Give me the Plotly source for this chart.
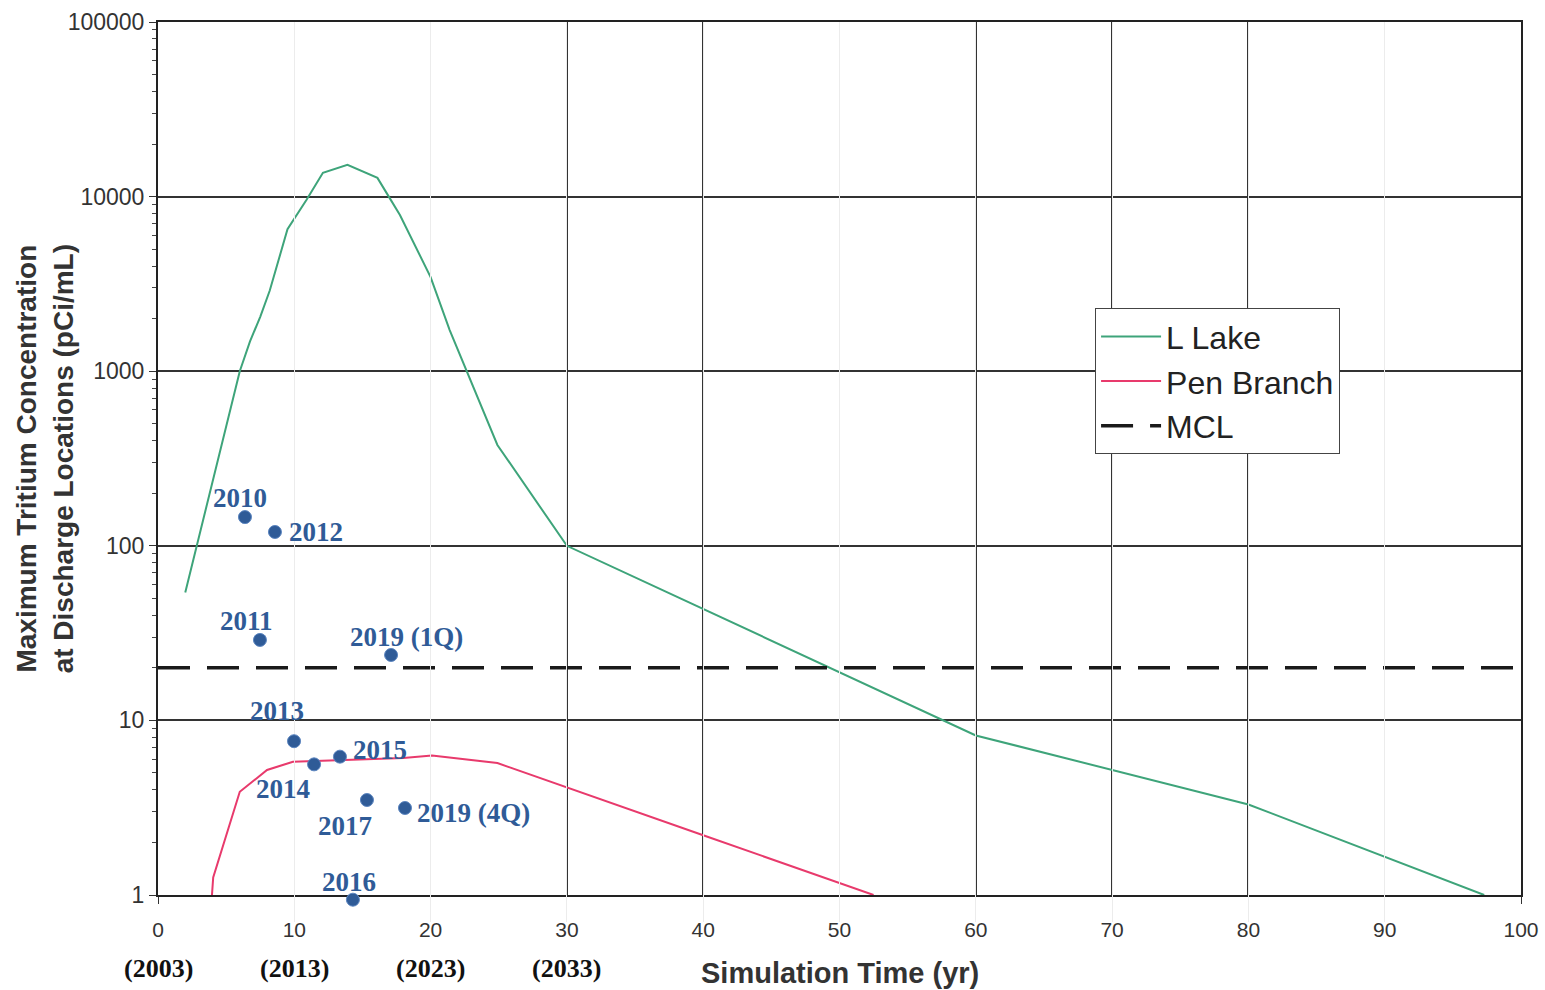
import math
import plotly.graph_objects as go

# L Lake simulated maximum tritium concentration (pCi/mL)
llake_t = [2.0, 4.0, 6.0, 6.75, 7.5, 8.2, 9.5, 10.9, 12.1, 13.9, 16.1, 17.0, 17.75, 20.0, 21.4, 24.9, 30.0, 60.0, 80.0, 97.3]
llake_c = [54, 230, 1000, 1480, 2050, 2900, 6500, 9600, 13700, 15200, 12800, 9800, 7850, 3460, 1720, 378, 100, 8.2, 3.3, 1.0]

# Pen Branch simulated maximum tritium concentration (pCi/mL)
pen_t = [3.96, 4.05, 6.0, 8.0, 9.9, 18.0, 20.1, 24.9, 40.0, 52.5]
pen_c = [1.0, 1.26, 3.9, 5.2, 5.8, 6.1, 6.3, 5.7, 2.2, 1.0]

# MCL
mcl_t = [0, 100]
mcl_c = [20, 20]

# Observed values
obs_labels = ["2010", "2012", "2011", "2019 (1Q)", "2013", "2014", "2015", "2017", "2019 (4Q)", "2016"]
obs_t = [6.38, 8.58, 7.48, 17.1, 9.98, 11.45, 13.35, 15.33, 18.12, 14.3]
obs_c = [146, 120, 28.9, 23.7, 7.6, 5.6, 6.2, 3.5, 3.15, 0.94]
# label offsets from marker (pixels): styling only
label_dx = [-5, 41, -13, 15, -17, -31, 40, -22, 69, -4]
label_dy = [19, 0, 19, 18, 30, -25, 7, -26, -5, 18]

# Axis ticks
x_ticks = [0, 10, 20, 30, 40, 50, 60, 70, 80, 90, 100]
x_dark_grid = [30, 40, 60, 70, 80]
y_ticks = [1, 10, 100, 1000, 10000, 100000]
y_ticktext = ["1", "10", "100", "1000", "10000", "100000"]
y_log_range = [0, 5]
year_ticks = [0, 10, 20, 30]
year_text = ["(2003)", "(2013)", "(2023)", "(2033)"]

BLUE = "#2f5b97"

# main axis occupies [D, 1] of plot height; helper axis for observations spans [0, 1]
D = 0.03
y2_low = y_log_range[1] - (y_log_range[1] - y_log_range[0]) / (1 - D)

fig = go.Figure()
fig.add_trace(go.Scatter(x=llake_t, y=llake_c, mode="lines", name="L Lake",
                         line=dict(color="#3ea47a", width=2)))
fig.add_trace(go.Scatter(x=pen_t, y=pen_c, mode="lines", name="Pen Branch",
                         line=dict(color="#e83a6c", width=2)))
fig.add_trace(go.Scatter(x=mcl_t, y=mcl_c, mode="lines", name="MCL",
                         line=dict(color="#1a1a1a", width=3.5, dash="32px,17px")))
fig.add_trace(go.Scatter(x=obs_t, y=obs_c, mode="markers", showlegend=False,
                         yaxis="y2", cliponaxis=False,
                         marker=dict(color=BLUE, size=13,
                                     line=dict(color="#5b85c0", width=1))))
# invisible trace for dark grid axis
fig.add_trace(go.Scatter(x=mcl_t, y=mcl_c, mode="lines", xaxis="x2", showlegend=False,
                         hoverinfo="skip", line=dict(color="rgba(0,0,0,0)", width=0)))

for t, c, lab, dx, dy in zip(obs_t, obs_c, obs_labels, label_dx, label_dy):
    fig.add_annotation(x=t, y=math.log10(c), xref="x", yref="y2", text="<b>%s</b>" % lab,
                       showarrow=False, xanchor="center", yanchor="middle",
                       xshift=dx, yshift=dy,
                       font=dict(family="Liberation Serif", size=27, color=BLUE))

for xv, tx in zip(year_ticks, year_text):
    fig.add_annotation(x=xv, y=-0.084, xref="x", yref="y domain", text="<b>%s</b>" % tx,
                       showarrow=False, xanchor="center", yanchor="middle",
                       font=dict(family="Liberation Serif", size=26, color="#111"))

fig.add_annotation(x=0.5, y=-0.089, xref="x domain", yref="y domain",
                   text="<b>Simulation Time (yr)</b>", showarrow=False,
                   xanchor="center", yanchor="middle",
                   font=dict(family="Liberation Sans", size=29, color="#333"))
fig.add_annotation(x=-0.083, y=0.5, xref="x domain", yref="y domain", textangle=-90,
                   text="<b>Maximum Tritium Concentration<br>at Discharge Locations (pCi/mL)</b>",
                   showarrow=False, xanchor="center", yanchor="middle",
                   font=dict(family="Liberation Sans", size=28, color="#333"))

fig.update_layout(
    width=1545, height=990,
    margin=dict(l=158, r=24, t=22, b=68, autoexpand=False),
    paper_bgcolor="white", plot_bgcolor="rgba(0,0,0,0)",
    showlegend=True,
    legend=dict(x=0.6875, y=0.682, xanchor="left", yanchor="top",
                bgcolor="white", bordercolor="#444", borderwidth=1,
                font=dict(family="Liberation Sans", size=32, color="#222"),
                tracegroupgap=0, itemwidth=60),
    xaxis=dict(range=[0, 100], tickvals=x_ticks, ticks="outside", ticklen=7,
               tickcolor="#333", showline=True, linecolor="#222", linewidth=2,
               mirror=True, showgrid=True, gridcolor="#ececec", gridwidth=1,
               zeroline=False, anchor="y", automargin=False, ticklabelstandoff=8,
               tickfont=dict(family="Liberation Sans", size=21, color="#333")),
    xaxis2=dict(range=[0, 100], overlaying="x", tickvals=x_dark_grid, anchor="y",
                showticklabels=False, ticks="", showgrid=True, gridcolor="#333",
                gridwidth=1.5, zeroline=False, showline=False, automargin=False),
    yaxis=dict(type="log", range=y_log_range, domain=[D, 1], tickvals=y_ticks,
               ticktext=y_ticktext, automargin=False,
               ticks="outside", ticklen=7, tickcolor="#333",
               showline=True, linecolor="#222", linewidth=2, mirror=True,
               showgrid=True, gridcolor="#333", gridwidth=1.5, zeroline=False,
               minor=dict(ticks="outside", ticklen=4, tickcolor="#444", dtick="D1", showgrid=False),
               tickfont=dict(family="Liberation Sans", size=23, color="#333")),
    yaxis2=dict(type="log", range=[y2_low, y_log_range[1]], domain=[0, 1],
                anchor="x", visible=False, showgrid=False, zeroline=False, automargin=False),
)

fig.write_html("out.html", config={"displayModeBar": False},
               post_script="document.body.style.margin='0';")
